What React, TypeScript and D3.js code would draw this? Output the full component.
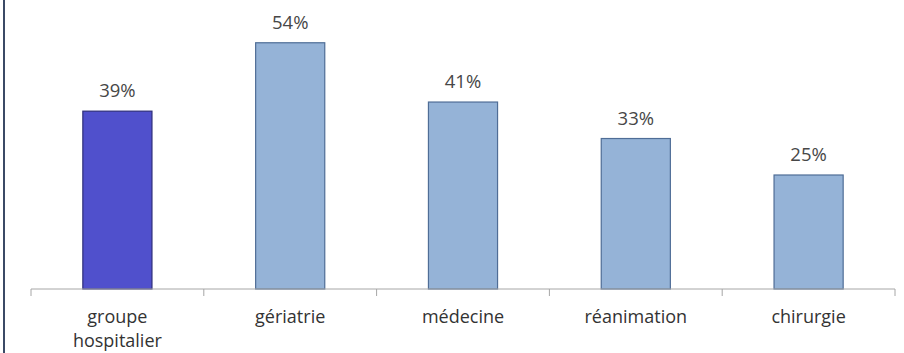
import React from "react";
import * as d3 from "d3";

const categories = ["groupe hospitalier", "gériatrie", "médecine", "réanimation", "chirurgie"];
const values = [39, 54, 41, 33, 25];
const highlight = ["groupe hospitalier"];

const W = 904;
const H = 353;
const baseY = 289;
const FONT = "'Open Sans', 'Noto Sans', sans-serif";

export default function App() {
  const x = d3.scaleBand<string>().domain(categories).range([31, 895]).paddingInner(0.6).paddingOuter(0.3);
  const step = x.step();
  const y = d3.scaleLinear().domain([0, 100]).range([baseY, baseY - 456]);
  const tickXs = d3.range(categories.length + 1).map((i) => 31 + i * step);

  return (
    <svg width={W} height={H} style={{ position: "absolute", left: 0, top: 0, background: "#fff" }}>
      <line x1={4} x2={4} y1={0} y2={H} stroke="#3b4a66" strokeWidth={2} />
      {categories.map((c, i) => {
        const isHi = highlight.includes(c);
        const bx = x(c)!;
        const by = y(values[i]);
        return (
          <g key={c}>
            <rect
              x={bx}
              y={by}
              width={x.bandwidth()}
              height={baseY - by}
              fill={isHi ? "#5050cc" : "#95b3d7"}
              stroke={isHi ? "#2e2e7a" : "#4f6d96"}
              strokeWidth={1.2}
            />
            <text
              x={bx + x.bandwidth() / 2}
              y={by - 14}
              textAnchor="middle"
              fontFamily={FONT}
              fontSize={18.5}
              fill="#474747"
            >
              {values[i]}%
            </text>
          </g>
        );
      })}
      <line x1={31} x2={895} y1={baseY} y2={baseY} stroke="#a6a6a6" strokeWidth={1} />
      {tickXs.map((tx, i) => (
        <line key={i} x1={tx} x2={tx} y1={baseY} y2={baseY + 7} stroke="#a6a6a6" strokeWidth={1} />
      ))}
      {categories.map((c) => {
        const words = c === "groupe hospitalier" ? ["groupe", "hospitalier"] : [c];
        const cx = x(c)! + x.bandwidth() / 2;
        return (
          <text key={c} x={cx} y={323} textAnchor="middle" fontFamily={FONT} fontSize={18} fill="#333333">
            {words.map((w, j) => (
              <tspan key={j} x={cx} dy={j === 0 ? 0 : 24}>
                {w}
              </tspan>
            ))}
          </text>
        );
      })}
    </svg>
  );
}
